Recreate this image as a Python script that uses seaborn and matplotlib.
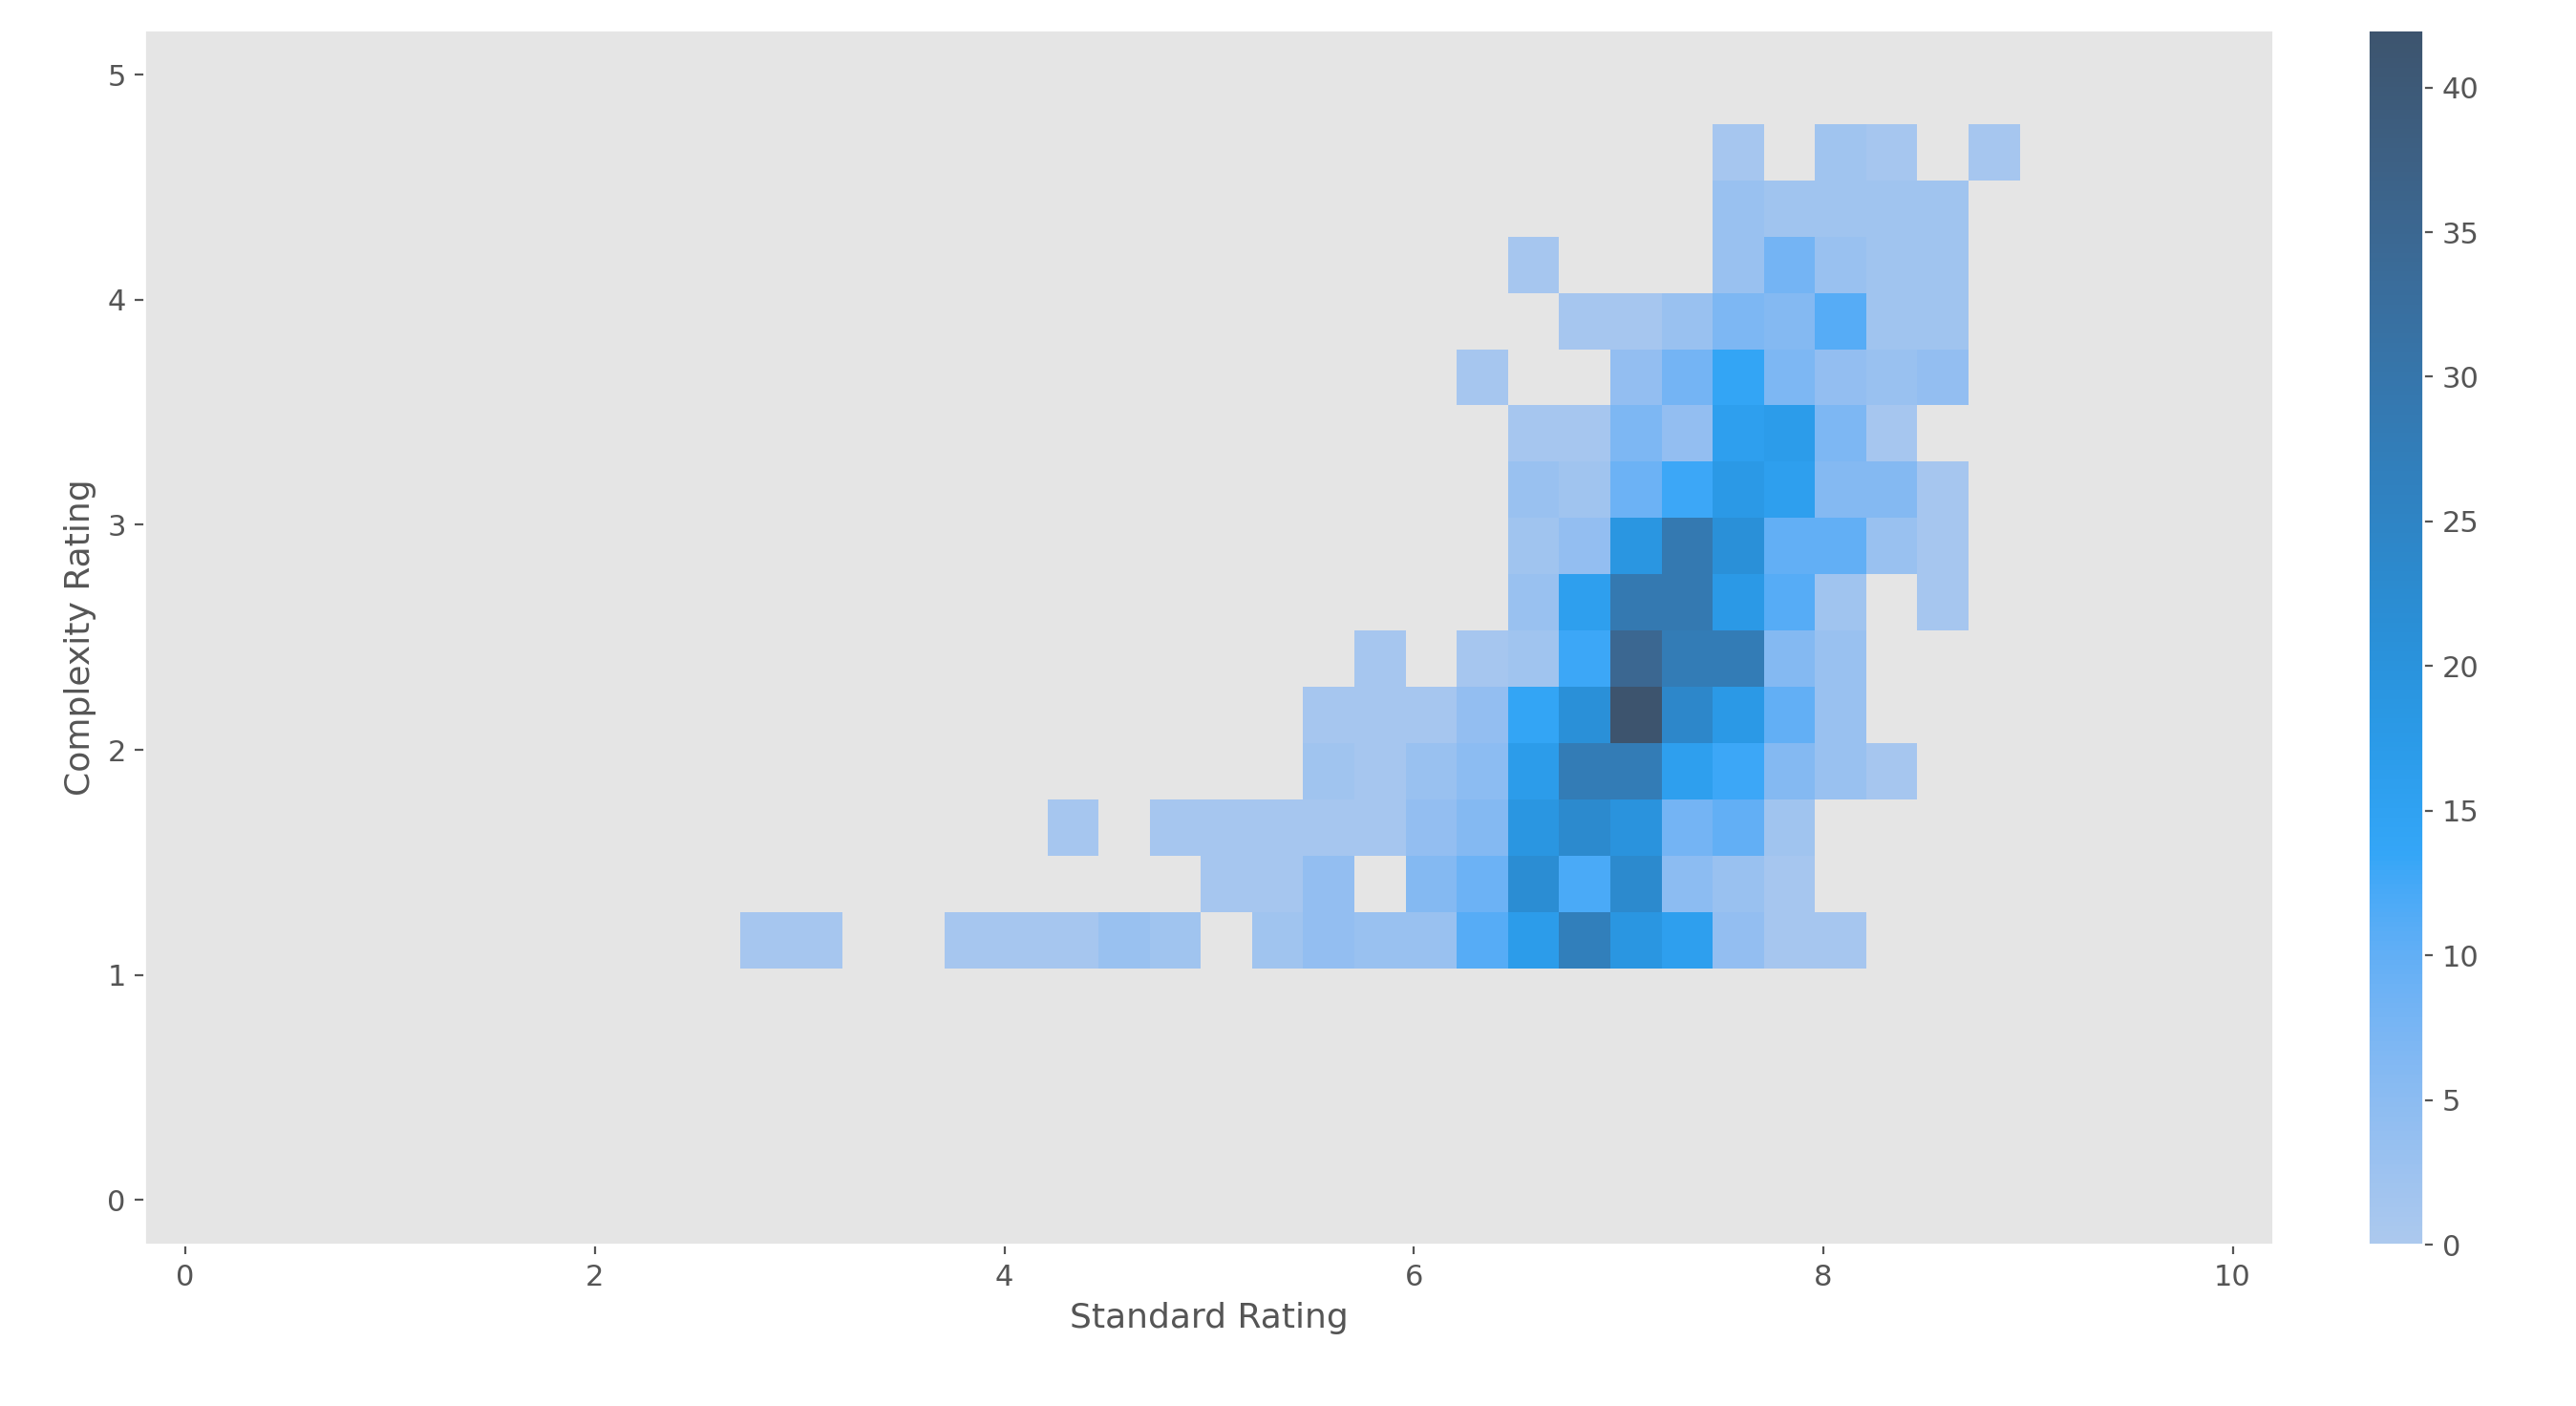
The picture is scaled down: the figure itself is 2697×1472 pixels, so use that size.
import numpy as np
import pandas as pd
import matplotlib
matplotlib.use("Agg")
import matplotlib.pyplot as plt
import seaborn as sns

# counts per cell: row index = complexity bin (bottom to top), {column: count}
x_start, y_start, bw = 2.71, 1.03, 0.25
n_x, n_y = 25, 15
rows = [
    {0:1,1:1,4:1,5:1,6:1,7:3,8:2,10:2,11:4,12:3,13:3,14:11,15:17,16:27,17:19,18:16,19:4,20:1,21:1},
    {9:1,10:1,11:4,13:6,14:9,15:22,16:12,17:23,18:5,19:3,20:1},
    {6:1,8:1,9:1,10:1,11:1,12:1,13:4,14:6,15:19,16:23,17:20,18:8,19:10,20:2},
    {11:2,12:1,13:3,14:5,15:17,16:28,17:28,18:16,19:13,20:6,21:3,22:1},
    {11:1,12:1,13:1,14:4,15:14,16:21,17:42,18:24,19:18,20:10,21:3},
    {12:1,14:1,15:2,16:13,17:35,18:28,19:28,20:6,21:3},
    {15:3,16:16,17:29,18:29,19:18,20:11,21:2,23:1},
    {15:2,16:4,17:19,18:29,19:21,20:10,21:10,22:3,23:1},
    {15:3,16:2,17:9,18:13,19:18,20:16,21:6,22:6,23:1},
    {15:1,16:1,17:7,18:4,19:16,20:17,21:7,22:1},
    {14:1,17:4,18:8,19:14,20:7,21:4,22:3,23:4},
    {16:1,17:1,18:3,19:7,20:6,21:11,22:2,23:2},
    {15:1,19:3,20:8,21:3,22:2,23:2},
    {19:3,20:2,21:2,22:2,23:2},
    {19:1,21:2,22:1,24:1},
]
xs, ys, ws = [], [], []
for r, row in enumerate(rows):
    for c, v in row.items():
        xs.append(x_start + (c + 0.5) * bw)
        ys.append(y_start + (r + 0.5) * bw)
        ws.append(v)
df = pd.DataFrame({"Standard Rating": xs, "Complexity Rating": ys, "w": ws})

plt.style.use("ggplot")
fig = plt.figure(figsize=(13.485, 7.36), dpi=200)
ax = fig.add_axes([0.0561, 0.1145, 0.8265, 0.8645])
cax = fig.add_axes([0.919, 0.1145, 0.0217, 0.8645])
sns.histplot(data=df, x="Standard Rating", y="Complexity Rating", weights="w",
             bins=(n_x, n_y),
             binrange=((x_start, x_start + n_x * bw), (y_start, y_start + n_y * bw)),
             color="#1f77b4", cbar=True, cbar_ax=cax, ax=ax)
ax.grid(False)
ax.set_xlim(-0.2, 10.2)
ax.set_ylim(-0.2, 5.2)
ax.set_xticks([0, 2, 4, 6, 8, 10])
ax.set_yticks([0, 1, 2, 3, 4, 5])
ax.xaxis.label.set_size(13)
ax.yaxis.label.set_size(13)
ax.tick_params(labelsize=11)
cax.tick_params(labelsize=11)
fig.savefig("out.png", dpi=200)
